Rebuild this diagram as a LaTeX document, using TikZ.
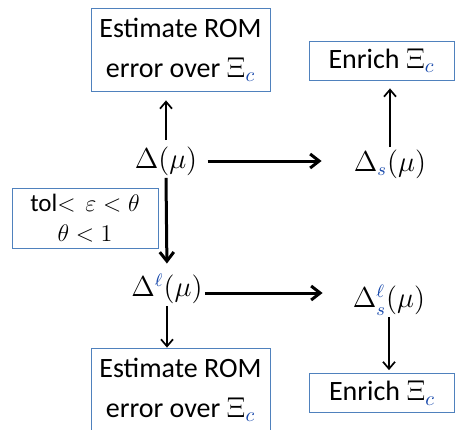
\documentclass[tikz,border=0pt]{standalone}
\usepackage{fontspec}
\setmainfont{Carlito}
\usetikzlibrary{positioning, arrows.meta, calc}
\definecolor{boxblue}{RGB}{79,129,189}
\definecolor{subblue}{RGB}{20,70,170}
\newcommand{\bl}[1]{\textcolor{subblue}{#1}}

\begin{document}
\begin{tikzpicture}[
  x=0.5pt, y=-0.5pt,
  task/.style={draw=boxblue, line width=0.4pt, align=center, inner sep=0pt,
    minimum width=89.5pt, minimum height=41.5pt, font=\fontsize{14}{20}\selectfont},
  enrich/.style={draw=boxblue, line width=0.4pt, align=center, inner sep=0pt,
    minimum width=72.5pt, minimum height=19.5pt, font=\fontsize{14}{20}\selectfont},
  cond/.style={draw=boxblue, line width=0.4pt, align=center, inner sep=0pt,
    minimum width=73pt, minimum height=30pt, font=\fontsize{12.5}{15}\selectfont},
  est/.style={inner sep=1pt, font=\fontsize{13.5}{16}\selectfont},
  thinarr/.style={-{Straight Barb[length=3.5pt, width=6pt]}, line width=0.85pt},
  thickarr/.style={-{Straight Barb[length=4.5pt, width=7pt]}, line width=1.5pt}
]
\useasboundingbox (0,0) rectangle (455,429);

% the four estimators
\node[est] (dA)  at (166,161) {$\Delta(\mu)$};
\node[est] (dS)  at (390,164) {$\Delta_{\bl{s}}(\mu)$};
\node[est] (dL)  at (167,289) {$\Delta^{\bl{\ell}}(\mu)$};
\node[est] (dLS) at (389,300) {$\Delta^{\bl{\ell}}_{\bl{s}}(\mu)$};

% what is done with them
\node[task]   (estTop) at (180.5,49.5)  {Estimate ROM\\error over $\Xi_{\bl{c}}$};
\node[enrich] (enrTop) at (381.5,60.5)  {Enrich $\Xi_{\bl{c}}$};
\node[task]   (estBot) at (180.5,389.5) {Estimate ROM\\error over $\Xi_{\bl{c}}$};
\node[enrich] (enrBot) at (382,393)     {Enrich $\Xi_{\bl{c}}$};

% the condition beside the switch to the cheaper estimator
\node[cond] (tol) at (85,218) {tol$<$~\,$\varepsilon<\theta$\\$\theta<1$};

\draw[thinarr, shorten <=2pt, shorten >=4.5pt] (dA.north) -- (dA.north |- estTop.south);
\draw[thinarr, shorten >=4pt] (dS.north) -- (dS.north |- enrTop.south);
\draw[thickarr, shorten <=4pt, shorten >=15pt] (dA.east) -- (dA.east -| dS.west);
\draw[thickarr, shorten >=4pt] (dA.south) -- (dL.north);
\draw[thinarr] (dL.south) -- (dL.south |- estBot.north);
\draw[thickarr, shorten >=14pt] ([yshift=-2pt]dL.east) -- ([yshift=-2pt]dL.east -| dLS.west);
\draw[thinarr, shorten >=1.5pt] (dLS.south) -- (dLS.south |- enrBot.north);

\end{tikzpicture}
\end{document}
